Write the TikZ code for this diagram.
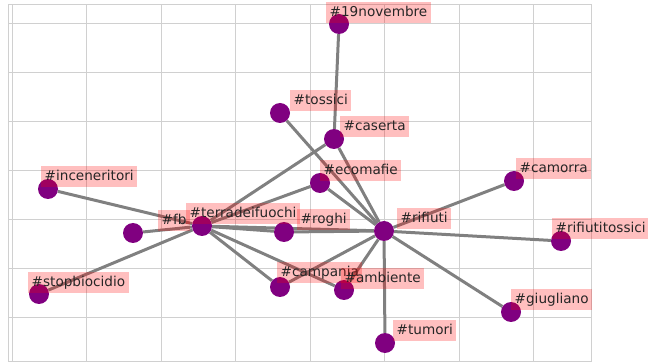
\documentclass[tikz,border=0pt]{standalone}
\usepackage{fontspec}
\setmainfont{DejaVu Sans}
\usepackage{tikz}
\usetikzlibrary{positioning, backgrounds}
\definecolor{tagpurple}{HTML}{800080}
\definecolor{edgegray}{HTML}{808080}
\definecolor{gridgray}{HTML}{D0D0D0}
\tikzset{
  % Nodi degli hashtag
  tag/.style={circle,fill=tagpurple,minimum size=20,inner sep=0},
  tag label/.style={anchor=south west,fill=red,fill opacity=0.25,text opacity=1,
    text=black!85,inner xsep=3.5,inner ysep=3.5,text height=10.5,text depth=3,
    font=\fontsize{13.6}{16}\selectfont},
  % Connessioni
  connect/.style={line width=3,edgegray},
  grid line/.style={gridgray,line width=1}
}

\begin{document}
\begin{tikzpicture}[x=1pt,y=-1pt]
    \useasboundingbox (0,0) rectangle (648,363);
    % Hashtag
    \node[tag] (19novembre) at (339,24) {};
    \node[tag] (tossici) at (280,113) {};
    \node[tag] (caserta) at (334,139) {};
    \node[tag] (ecomafie) at (320,183) {};
    \node[tag] (camorra) at (514,181) {};
    \node[tag] (inceneritori) at (48,189) {};
    \node[tag] (fb) at (133,233) {};
    \node[tag] (terradeifuochi) at (202,226) {};
    \node[tag] (roghi) at (284,232) {};
    \node[tag] (rifiuti) at (384,231) {};
    \node[tag] (rifiutitossici) at (561,241) {};
    \node[tag] (campania) at (280,287) {};
    \node[tag] (ambiente) at (344,290) {};
    \node[tag] (stopbiocidio) at (39,294) {};
    \node[tag] (giugliano) at (511,312) {};
    \node[tag] (tumori) at (385,343) {};
    \begin{scope}[on background layer]
      % Griglia
      \draw[grid line] (12,5) -- (12,361) (86.5,5) -- (86.5,361) (161,5) -- (161,361)
        (235.5,5) -- (235.5,361) (310,5) -- (310,361) (384.5,5) -- (384.5,361)
        (459,5) -- (459,361) (533.5,5) -- (533.5,361);
      \draw[grid line] (8,24) -- (591,24) (8,73) -- (591,73) (8,122) -- (591,122)
        (8,171) -- (591,171) (8,220) -- (591,220) (8,269) -- (591,269) (8,318) -- (591,318);
      \draw[grid line] (8,5) rectangle (591,361);
      % Archi
      \draw[connect] (19novembre) -- (caserta);
      \draw[connect] (tossici) -- (rifiuti);
      \draw[connect] (caserta) -- (terradeifuochi);
      \draw[connect] (caserta) -- (rifiuti);
      \draw[connect] (ecomafie) -- (terradeifuochi);
      \draw[connect] (ecomafie) -- (rifiuti);
      \draw[connect] (camorra) -- (rifiuti);
      \draw[connect] (inceneritori) -- (terradeifuochi);
      \draw[connect] (fb) -- (terradeifuochi);
      \draw[connect] (stopbiocidio) -- (terradeifuochi);
      \draw[connect] (terradeifuochi) -- (roghi);
      \draw[connect] (terradeifuochi) -- (rifiuti);
      \draw[connect] (roghi) -- (rifiuti);
      \draw[connect] (terradeifuochi) -- (campania);
      \draw[connect] (terradeifuochi) -- (ambiente);
      \draw[connect] (campania) -- (rifiuti);
      \draw[connect] (ambiente) -- (rifiuti);
      \draw[connect] (rifiuti) -- (rifiutitossici);
      \draw[connect] (rifiuti) -- (giugliano);
      \draw[connect] (rifiuti) -- (tumori);
    \end{scope}
    % Etichette
    \node[tag label] (19novembre lab) at (326,23) {\#19novembre};
    \node[tag label] (tossici lab) at (290,111) {\#tossici};
    \node[tag label] (caserta lab) at (340,137) {\#caserta};
    \node[tag label] (ecomafie lab) at (320,181) {\#ecomafie};
    \node[tag label] (camorra lab) at (516,179) {\#camorra};
    \node[tag label] (inceneritori lab) at (41,187) {\#inceneritori};
    \node[tag label] (fb lab) at (158,231) {\#fb};
    \node[tag label] (terradeifuochi lab) at (186,224) {\#terradeifuochi};
    \node[tag label] (roghi lab) at (297,230) {\#roghi};
    \node[tag label] (rifiuti lab) at (397,229) {\#rifiuti};
    \node[tag label] (rifiutitossici lab) at (552,239) {\#rifiutitossici};
    \node[tag label] (campania lab) at (277,283) {\#campania};
    \node[tag label] (ambiente lab) at (341,289) {\#ambiente};
    \node[tag label] (stopbiocidio lab) at (28,293) {\#stopbiocidio};
    \node[tag label] (giugliano lab) at (511,310) {\#giugliano};
    \node[tag label] (tumori lab) at (393,341) {\#tumori};
  \end{tikzpicture}
\end{document}
